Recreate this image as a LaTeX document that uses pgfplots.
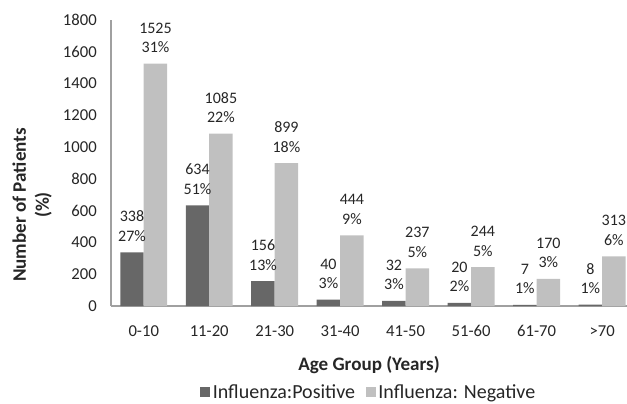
\documentclass[border=0pt]{standalone}
\usepackage{pgfplots}
\usepackage{pgfplotstable}
\pgfplotsset{compat=1.18}
\usepackage{fontspec}
\setmainfont{Carlito}
\definecolor{darkbar}{RGB}{103,103,103}
\definecolor{lightbar}{RGB}{192,192,192}
\definecolor{axisgray}{RGB}{160,160,160}
\definecolor{txt}{RGB}{38,38,38}
\pgfplotstableread{
x pos neg posp negp
0 338 1525 27 31
1 634 1085 51 22
2 156 899 13 18
3 40 444 3 9
4 32 237 3 5
5 20 244 2 5
6 7 170 1 3
7 8 313 1 6
}\datatable
\begin{document}
\begin{tikzpicture}
\begin{axis}[
  scale only axis,
  width=387pt, height=214.5pt,
  xmin=-0.5, xmax=7.38,
  ymin=0, ymax=1800,
  ytick distance=200,
  xtick={0,...,7},
  xticklabels={0-10,11-20,21-30,31-40,41-50,51-60,61-70,>70},
  axis lines*=left,
  axis line style={draw=axisgray, line width=1.2pt},
  major tick length=0pt,
  /pgf/number format/assume math mode=true,
  /pgf/number format/1000 sep={},
  ticklabel style={font=\fontsize{12.5}{15}\selectfont, text=txt},
  yticklabel style={inner sep=0pt, xshift=-10.5pt},
  xticklabel style={inner sep=0pt, anchor=base, yshift=-23.25pt},
  ybar=0pt, bar width=17.6pt,
  clip=false,
  xlabel={Age Group (Years)},
  xlabel style={at={(axis description cs:0.5,-0.206)}, anchor=center, font=\fontsize{14.3}{17}\selectfont\bfseries, text=txt},
  ylabel={Number of Patients\\(\%)},
  ylabel style={at={(axis description cs:-0.153,0.353)}, anchor=center, align=center, font=\fontsize{14.3}{17.25}\selectfont\bfseries, text=txt},
  nodes near coords style={align=center, anchor=south, inner sep=0pt, yshift=8pt, font=\fontsize{12}{14.6}\selectfont, text=txt},
  legend style={draw=none, at={(axis description cs:0.5,-0.302)}, anchor=center, legend columns=2, font=\fontsize{15}{18}\selectfont, text=txt, /tikz/every even column/.append style={column sep=6pt}},
  legend image code/.code={\fill[#1] (0pt,-3.75pt) rectangle (7.5pt,3.75pt);},
]
\addplot[fill=darkbar, draw=none,
  visualization depends on={\thisrow{posp} \as \pct},
  nodes near coords={\pgfmathprintnumber{\pgfplotspointmeta}\\\pgfmathprintnumber{\pct}\%}]
  table[x=x, y=pos] {\datatable};
\addplot[fill=lightbar, draw=none,
  visualization depends on={\thisrow{negp} \as \pct},
  nodes near coords={\pgfmathprintnumber{\pgfplotspointmeta}\\\pgfmathprintnumber{\pct}\%}]
  table[x=x, y=neg] {\datatable};
\legend{Influenza:Positive, Influenza: Negative}
\coordinate (bl) at (rel axis cs:0,0);
\coordinate (tr) at (rel axis cs:1,1);
\end{axis}
\pgfresetboundingbox
\path[use as bounding box] ([xshift=-83.25pt,yshift=-73.5pt]bl) rectangle ([yshift=15pt]tr);
\end{tikzpicture}
\end{document}
